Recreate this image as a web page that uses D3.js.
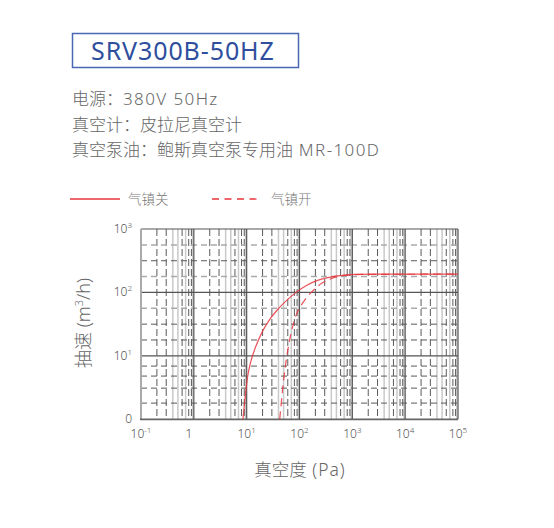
<!DOCTYPE html>
<html>
<head>
<meta charset="utf-8">
<script src="https://cdn.jsdelivr.net/npm/d3@7"></script>
<style>
    body { margin: 0; background: #fff; }
    text { font-family: "Noto Sans", "Noto Sans CJK SC", sans-serif; font-weight: 300; }
</style>
</head>
<body>
<div id="chart"></div>
<script>
// pumping speed curves (pressure Pa -> speed m3/h)
var offPressure = [8.5, 9.3, 10.3, 11.9, 14.8, 19.7, 28.2, 40.4, 62.2, 89, 138, 227, 405, 720, 1110, 3000, 100000];
var offSpeed    = [1, 2.1, 4.4, 8.0, 13.9, 23.9, 38.9, 56, 80, 102, 130, 156, 176, 187, 192, 194, 194];
var onPressure  = [42.2, 44.8, 48, 52.3, 58, 64.9, 74, 89, 119, 171, 263, 405, 624, 961, 3000, 100000];
var onSpeed     = [1, 1.67, 3.06, 5.6, 10.3, 17.7, 28.7, 46.7, 71, 102, 139, 166, 183, 190, 193, 194];

var xTicks = [0.1, 1, 10, 100, 1000, 10000, 100000];
var xTickSup = ["-1", "", "1", "2", "3", "4", "5"];
var yTicks = [1, 10, 100, 1000];
var yTickSup = ["", "1", "2", "3"];

var xMinorDark = [2, 3, 6, 8, 9];
var xMinorLight = [4, 5, 7, 9.5];
var yMinorDark = [1.8, 3.1, 4.8, 6.9, 17.8, 31.6, 316];
var yMinorLight = [56.2, 178, 562];

var specLines = ["电源：380V 50Hz", "真空计：皮拉尼真空计", "真空泵油：鲍斯真空泵专用油 MR-100D"];
var legendNames = ["气镇关", "气镇开"];

window.onload = () => {
    var width = 554;
    var height = 528;
    var red = "#e8343c";

    var svg = d3.select("#chart")
        .append("svg")
        .attr("width", width)
        .attr("height", height);

    // split text into latin / cjk runs so latin can be spaced wider
    function runs(sel, str, spacing) {
        str.match(/[\x20-\x7e]+|[^\x20-\x7e]+/g).forEach(r => {
            var t = sel.append("tspan").text(r);
            if (/^[\x20-\x7e]+$/.test(r)) t.attr("letter-spacing", spacing);
        });
    }

    // title box
    svg.append("rect")
        .attr("x", 72.5).attr("y", 33.5)
        .attr("width", 226).attr("height", 34)
        .attr("fill", "none")
        .attr("stroke", "#4a67b3")
        .attr("stroke-width", 1.5);
    svg.append("text")
        .attr("x", 91).attr("y", 59.5)
        .attr("font-size", 25)
        .style("font-weight", 400)
        .attr("letter-spacing", 0.9)
        .attr("fill", "#2f4f9e")
        .text("SRV300B-50HZ");

    specLines.forEach((s, i) => {
        var t = svg.append("text")
            .attr("x", 72)
            .attr("y", 105 + i * 25.5)
            .attr("font-size", 17)
            .attr("fill", "#666");
        runs(t, s, 1.4);
    });

    // legend
    svg.append("line")
        .attr("x1", 70).attr("x2", 120).attr("y1", 199).attr("y2", 199)
        .attr("stroke", red).attr("stroke-width", 1.3);
    svg.append("line")
        .attr("x1", 212).attr("x2", 262).attr("y1", 199).attr("y2", 199)
        .attr("stroke", red).attr("stroke-width", 1.3)
        .attr("stroke-dasharray", "7,5.5");
    svg.selectAll(".legend")
        .data(legendNames)
        .enter()
        .append("text")
        .attr("x", (d, i) => i === 0 ? 128 : 271)
        .attr("y", 204)
        .attr("font-size", 13.5)
        .attr("fill", "#777")
        .text(d => d);

    var x = d3.scaleLog().domain([0.1, 100000]).range([141, 458]);
    var y = d3.scaleLog().domain([1, 1000]).range([419.3, 229]);

    var g = svg.append("g");
    var decades = xTicks.slice(0, -1);

    // vertical minor grid
    var vLight = [], vDark = [];
    decades.forEach(d => {
        xMinorLight.forEach(m => vLight.push(d * m));
        xMinorDark.forEach(m => vDark.push(d * m));
    });
    g.selectAll(".vl").data(vLight).enter().append("line")
        .attr("x1", d => x(d)).attr("x2", d => x(d))
        .attr("y1", y(1)).attr("y2", y(1000))
        .attr("stroke", "#c9c9c9").attr("stroke-width", 1.5);
    g.selectAll(".vd").data(vDark).enter().append("line")
        .attr("x1", d => x(d)).attr("x2", d => x(d))
        .attr("y1", y(1000)).attr("y2", y(1))
        .attr("stroke", "#5a5a5a").attr("stroke-width", 1)
        .attr("stroke-dasharray", "7,3");

    // horizontal minor grid
    g.selectAll(".hl").data(yMinorLight).enter().append("line")
        .attr("x1", x(0.1)).attr("x2", x(100000))
        .attr("y1", d => y(d)).attr("y2", d => y(d))
        .attr("stroke", "#aaa").attr("stroke-width", 1.5)
        .attr("stroke-dasharray", "6,4");
    g.selectAll(".hd").data(yMinorDark).enter().append("line")
        .attr("x1", x(0.1)).attr("x2", x(100000))
        .attr("y1", d => y(d)).attr("y2", d => y(d))
        .attr("stroke", "#5a5a5a").attr("stroke-width", 1)
        .attr("stroke-dasharray", "6,4");

    // major grid
    g.selectAll(".vm").data(xTicks.slice(1)).enter().append("line")
        .attr("x1", d => x(d)).attr("x2", d => x(d))
        .attr("y1", y(1)).attr("y2", y(1000))
        .attr("stroke", "#555").attr("stroke-width", 1.2);
    g.selectAll(".hm").data(yTicks.slice(1)).enter().append("line")
        .attr("x1", x(0.1)).attr("x2", x(100000))
        .attr("y1", d => y(d)).attr("y2", d => y(d))
        .attr("stroke", "#555").attr("stroke-width", 1.2);

    // frame
    g.append("line")
        .attr("x1", x(0.1)).attr("x2", x(0.1)).attr("y1", y(1)).attr("y2", y(1000))
        .attr("stroke", "#aaa").attr("stroke-width", 2);
    g.append("line")
        .attr("x1", x(0.1) - 1).attr("x2", x(100000)).attr("y1", y(1)).attr("y2", y(1))
        .attr("stroke", "#666").attr("stroke-width", 1.8);

    // curves
    var line = d3.line()
        .x(d => x(d[0]))
        .y(d => y(d[1]))
        .curve(d3.curveMonotoneX);

    var offData = offPressure.map((p, i) => [p, offSpeed[i]]);
    var onData = onPressure.map((p, i) => [p, onSpeed[i]]);

    svg.append("path")
        .attr("d", line(onData))
        .attr("fill", "none")
        .attr("stroke", red).attr("stroke-width", 1.2)
        .attr("stroke-opacity", 0.85)
        .attr("stroke-dasharray", "8,5");
    svg.append("path")
        .attr("d", line(offData))
        .attr("fill", "none")
        .attr("stroke", red).attr("stroke-width", 1.2)
        .attr("stroke-opacity", 0.85);

    // tick labels
    var xl = svg.selectAll(".xl").data(xTicks).enter().append("text")
        .attr("x", (d, i) => x(d) + (i === 1 ? -5 : 0))
        .attr("y", 438)
        .attr("text-anchor", "middle")
        .attr("font-size", 12)
        .attr("fill", "#555");
    xl.append("tspan").text((d, i) => xTickSup[i] === "" ? "1" : "10");
    xl.append("tspan")
        .attr("font-size", 8).attr("dy", -5)
        .text((d, i) => xTickSup[i]);

    var yl = svg.selectAll(".yl").data(yTicks).enter().append("text")
        .attr("x", 132)
        .attr("y", d => y(d) + 4)
        .attr("text-anchor", "end")
        .attr("font-size", 12)
        .attr("fill", "#555");
    yl.append("tspan").text((d, i) => yTickSup[i] === "" ? "0" : "10");
    yl.append("tspan")
        .attr("font-size", 8).attr("dy", -5)
        .text((d, i) => yTickSup[i]);

    // axis titles
    var xt = svg.append("text")
        .attr("x", 300).attr("y", 476)
        .attr("text-anchor", "middle")
        .attr("font-size", 17.5)
        .attr("fill", "#666");
    runs(xt, "真空度 (Pa)", 1);

    var yt = svg.append("text")
        .attr("transform", "translate(90,323) rotate(-90)")
        .attr("text-anchor", "middle")
        .attr("font-size", 18)
        .attr("fill", "#666");
    yt.append("tspan").text("抽速 (m");
    yt.append("tspan").attr("font-size", 11).attr("dy", -7).text("3");
    yt.append("tspan").attr("dy", 7).text("/h)");
}
</script>
</body>
</html>
